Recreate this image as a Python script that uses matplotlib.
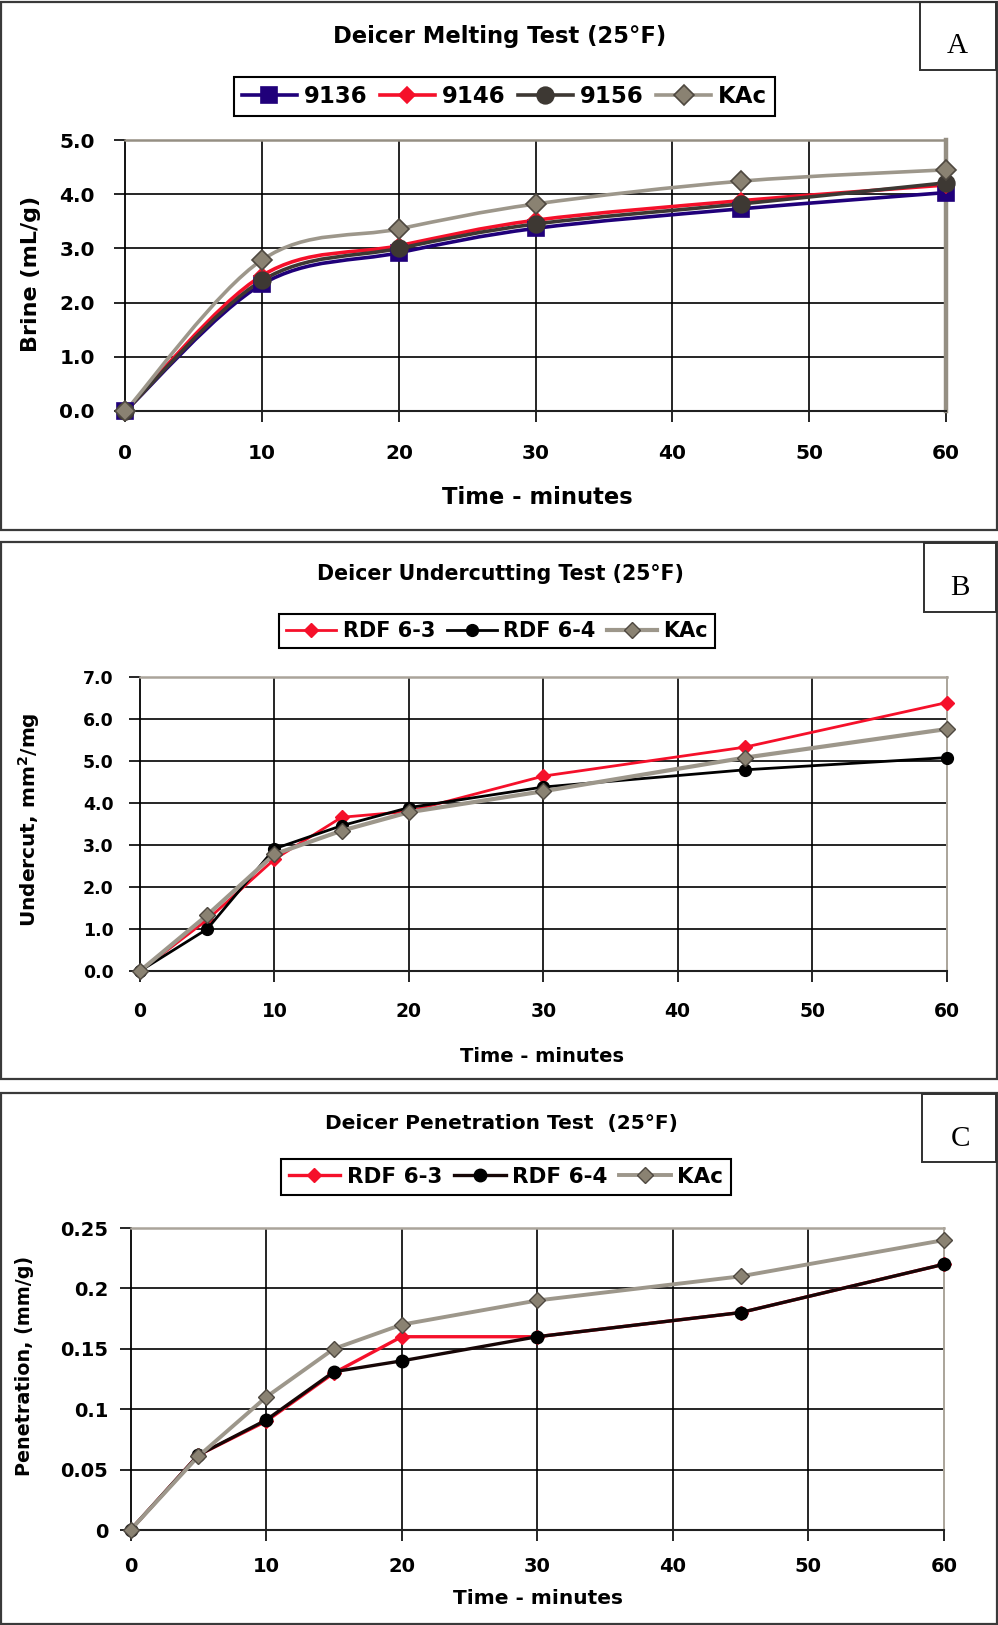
import matplotlib
matplotlib.use("Agg")
import matplotlib.pyplot as plt
from matplotlib.path import Path
from matplotlib.patches import PathPatch, Rectangle
from matplotlib.lines import Line2D
from matplotlib.ticker import FuncFormatter
import numpy as np

plt.rcParams['font.family'] = ['DejaVu Sans']
plt.rcParams['font.weight'] = 'bold'
plt.rcParams['mathtext.default'] = 'bf'

W, H = 998, 1625

# Panel A - melting test
melt_time = [0, 10, 20, 30, 45, 60]
melt_9136 = [0.0, 2.34, 2.92, 3.37, 3.73, 4.03]
melt_9146 = [0.0, 2.50, 3.05, 3.52, 3.88, 4.17]
melt_9156 = [0.0, 2.41, 3.00, 3.45, 3.82, 4.21]
melt_kac = [0.0, 2.79, 3.36, 3.82, 4.24, 4.45]

# Panel B - undercutting test
test_time = [0, 5, 10, 15, 20, 30, 45, 60]
under_rdf63 = [0.0, 1.22, 2.66, 3.66, 3.80, 4.64, 5.33, 6.39]
under_rdf64 = [0.0, 1.00, 2.91, 3.46, 3.89, 4.38, 4.79, 5.08]
under_kac = [0.0, 1.33, 2.78, 3.34, 3.78, 4.28, 5.08, 5.76]

# Panel C - penetration test
pen_rdf63 = [0.0, 0.062, 0.09, 0.13, 0.16, 0.16, 0.18, 0.22]
pen_rdf64 = [0.0, 0.062, 0.091, 0.131, 0.14, 0.16, 0.18, 0.22]
pen_kac = [0.0, 0.061, 0.11, 0.15, 0.17, 0.19, 0.21, 0.24]

x_ticks = [0, 10, 20, 30, 40, 50, 60]

RED = '#f5102a'
NAVY = '#20007a'
DARK = '#3d3833'
TAN = '#9d978b'
TAN_FACE = '#8a8272'
TAN_EDGE = '#4e4840'


def fx(px):
    return px / W


def fy(py):
    return 1 - py / H


def box(left, top, right, bottom):
    return [fx(left), fy(bottom), (right - left) / W, (bottom - top) / H]


def smooth_path(x, y):
    # excel style smoothed line (catmull-rom -> bezier)
    pts = np.column_stack([x, y]).astype(float)
    ext = np.vstack([pts[0], pts, pts[-1]])
    verts = [pts[0]]
    codes = [Path.MOVETO]
    for i in range(len(pts) - 1):
        p0, p1, p2, p3 = ext[i], ext[i + 1], ext[i + 2], ext[i + 3]
        verts += [p1 + (p2 - p0) / 6, p2 - (p3 - p1) / 6, p2]
        codes += [Path.CURVE4] * 3
    return Path(verts, codes)


def setup(ax, ymax, ystep, fmt, xsize, ysize, xpad, ypad, right_lw, top_color):
    ax.set_xlim(0, 60)
    ax.set_ylim(0, ymax)
    ax.set_xticks(x_ticks)
    ax.set_yticks(np.arange(0, ymax + ystep / 2, ystep))
    ax.yaxis.set_major_formatter(FuncFormatter(fmt))
    ax.grid(True, color='black', lw=1.2)
    ax.set_axisbelow(True)
    ax.tick_params(axis='x', direction='out', length=8, width=1.2, pad=xpad, labelsize=xsize)
    ax.tick_params(axis='y', direction='out', length=8, width=1.2, pad=ypad, labelsize=ysize)
    for lab in ax.get_xticklabels() + ax.get_yticklabels():
        lab.set_fontweight('bold')
    ax.spines['left'].set_color('black')
    ax.spines['left'].set_linewidth(1.3)
    ax.spines['bottom'].set_color('#202020')
    ax.spines['bottom'].set_linewidth(1.5)
    ax.spines['top'].set_color(top_color)
    ax.spines['top'].set_linewidth(1.8)
    ax.spines['right'].set_color(top_color)
    ax.spines['right'].set_linewidth(right_lw)
    ax.xaxis.get_gridlines()[-1].set_visible(False)
    ax.xaxis.get_gridlines()[0].set_visible(False)
    ax.yaxis.get_gridlines()[-1].set_visible(False)
    ax.yaxis.get_gridlines()[0].set_visible(False)


def panel_frame(fig, top, bottom, letter, lbox, lxy):
    fig.add_artist(Rectangle((fx(1), fy(bottom)), fx(996), (bottom - top) / H,
                             transform=fig.transFigure, fill=False, ec='#3a3a3a', lw=1.6))
    l, t, r, b = lbox
    fig.add_artist(Rectangle((fx(l), fy(b)), (r - l) / W, (b - t) / H,
                             transform=fig.transFigure, fill=False, ec='#303030', lw=1.4))
    fig.text(fx(lxy[0]), fy(lxy[1]), letter, family='Liberation Serif', weight='normal',
             fontsize=21, ha='center', va='center')


def legend(ax, fig, handles, labels, cx, cy, size):
    leg = ax.legend(handles, labels, loc='center', bbox_to_anchor=(fx(cx), fy(cy)),
                    bbox_transform=fig.transFigure, ncol=len(handles), frameon=True,
                    fancybox=False, edgecolor='black', framealpha=1, numpoints=1,
                    handlelength=2.4, handletextpad=0.3, columnspacing=0.55,
                    borderpad=0.35, borderaxespad=0, prop=dict(weight='bold', size=size))
    leg.get_frame().set_linewidth(1.5)


fig = plt.figure(figsize=(W / 100, H / 100), dpi=100)

# ---------------- A ----------------
axA = fig.add_axes(box(125.4, 140, 946, 411))
series_a = [
    (melt_9136, NAVY, NAVY, NAVY, 's', 11, '9136'),
    (melt_9146, RED, RED, RED, 'D', 8, '9146'),
    (melt_9156, DARK, DARK, DARK, 'o', 12, '9156'),
    (melt_kac, TAN, TAN_FACE, TAN_EDGE, 'D', 10, 'KAc'),
]
handles_a = []
for vals, lc, face, edge, mk, ms, name in series_a:
    axA.add_patch(PathPatch(smooth_path(melt_time, vals), fill=False, ec=lc, lw=2.6,
                            zorder=3, capstyle='round', joinstyle='round'))
    axA.plot(melt_time, vals, ls='none', marker=mk, ms=ms, mfc=face, mec=edge,
             mew=1.2, zorder=4, clip_on=False)
    handles_a.append(Line2D([], [], color=lc, lw=2.6, marker=mk, ms=ms, mfc=face,
                            mec=edge, mew=1.2))
setup(axA, 5.0, 1.0, lambda v, p: '%.1f' % v, 14.5, 14.5, 16, 14, 3.2, '#958f83')
legend(axA, fig, handles_a, [h[6] for h in series_a], 504.5, 96.5, 16.5)
fig.text(fx(500), fy(37), 'Deicer Melting Test (25°F)', ha='center', va='center',
         fontsize=16.3, weight='bold')
fig.text(fx(537), fy(498), 'Time - minutes', ha='center', va='center',
         fontsize=16.3, weight='bold')
fig.text(fx(31), fy(274), 'Brine (mL/g)', ha='center', va='center', rotation=90,
         fontsize=16, weight='bold')
panel_frame(fig, 2, 530, 'A', (920, 2, 996, 70), (957, 46))

# ---------------- B ----------------
axB = fig.add_axes(box(140, 677, 946.5, 971))
series_b = [
    (under_rdf63, RED, RED, RED, 'D', 7, 2.0, 'RDF 6-3'),
    (under_rdf64, 'black', 'black', 'black', 'o', 8.5, 2.0, 'RDF 6-4'),
    (under_kac, TAN, TAN_FACE, TAN_EDGE, 'D', 8, 3.0, 'KAc'),
]
handles_b = []
for vals, lc, face, edge, mk, ms, lw, name in series_b:
    axB.plot(test_time, vals, color=lc, lw=lw, marker=mk, ms=ms, mfc=face, mec=edge,
             mew=1.0, zorder=3, clip_on=False)
    handles_b.append(Line2D([], [], color=lc, lw=lw, marker=mk, ms=ms, mfc=face,
                            mec=edge, mew=1.0))
setup(axB, 7.0, 1.0, lambda v, p: '%.1f' % v, 13.5, 12.5, 14, 11, 1.4, '#aaa49a')
legend(axB, fig, handles_b, [s[7] for s in series_b], 497, 631, 15)
fig.text(fx(500), fy(574), 'Deicer Undercutting Test (25°F)', ha='center', va='center',
         fontsize=14.8, weight='bold')
fig.text(fx(542), fy(1056), 'Time - minutes', ha='center', va='center',
         fontsize=14, weight='bold')
fig.text(fx(29), fy(820), 'Undercut, mm$^{2}$/mg', ha='center', va='center', rotation=90,
         fontsize=14.5, weight='bold')
panel_frame(fig, 542, 1079, 'B', (924, 543, 996, 612), (960, 588))

# ---------------- C ----------------
axC = fig.add_axes(box(130.5, 1228, 944, 1530))
series_c = [
    (pen_rdf63, RED, RED, RED, 'D', 7, 2.4, 'RDF 6-3'),
    (pen_rdf64, '#160606', 'black', 'black', 'o', 9, 2.4, 'RDF 6-4'),
    (pen_kac, TAN, TAN_FACE, TAN_EDGE, 'D', 8, 2.8, 'KAc'),
]
handles_c = []
for vals, lc, face, edge, mk, ms, lw, name in series_c:
    axC.plot(test_time, vals, color=lc, lw=lw, marker=mk, ms=ms, mfc=face, mec=edge,
             mew=1.0, zorder=3, clip_on=False)
    handles_c.append(Line2D([], [], color=lc, lw=lw, marker=mk, ms=ms, mfc=face,
                            mec=edge, mew=1.0))
setup(axC, 0.25, 0.05, lambda v, p: '%g' % round(v, 2), 14, 14, 11.5, 8, 1.4, '#aaa49a')
legend(axC, fig, handles_c, [s[7] for s in series_c], 506, 1177, 15.5)
fig.text(fx(501), fy(1124), 'Deicer Penetration Test  (25°F)', ha='center', va='center',
         fontsize=14.5, weight='bold')
fig.text(fx(538), fy(1598), 'Time - minutes', ha='center', va='center',
         fontsize=14.5, weight='bold')
fig.text(fx(25), fy(1366), 'Penetration, (mm/g)', ha='center', va='center', rotation=90,
         fontsize=13.8, weight='bold')
panel_frame(fig, 1093, 1624, 'C', (922, 1094, 996, 1162), (960, 1139))

fig.savefig('out.png', dpi=100)
